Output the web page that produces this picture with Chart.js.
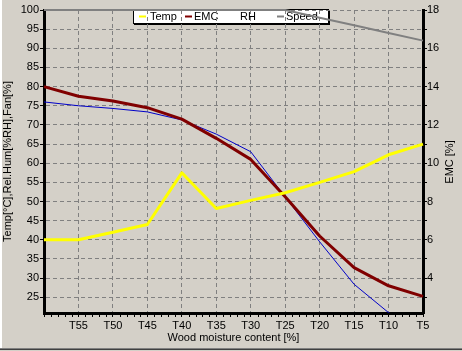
<!DOCTYPE html>
<html>
<head>
<meta charset="utf-8">
<script src="https://cdn.jsdelivr.net/npm/chart.js@4.4.1/dist/chart.umd.min.js"></script>
<style>
html, body { margin: 0; padding: 0; background: #d4d0c8; overflow: hidden; }
canvas { display: block; }
</style>
</head>
<body>
<canvas id="myChart" width="462" height="351"></canvas>
<script>
// data
const categories = ['T60', 'T55', 'T50', 'T45', 'T40', 'T35', 'T30', 'T25', 'T20', 'T15', 'T10', 'T5'];
const tempValues = [40, 40, 42, 44, 57.5, 48.2, 50.3, 52.3, 55, 57.8, 62.2, 65];
const emcValues = [14, 13.5, 13.25, 12.9, 12.3, 11.3, 10.2, 8.25, 6.2, 4.55, 3.6, 3.05];
const rhValues = [76, 75, 74.3, 73.4, 71.3, 67.6, 63, 51.2, 39.5, 28.4, 21, 15];
const speedValues = [100, 100, 100, 100, 100, 100, 100, 100, 98, 96, 94, 92];
const leftRange = [20.9, 100];   // Temp / RH / Fan axis
const rightRange = [2.18, 18];   // EMC axis

const FONT = "'Liberation Sans', Arial, sans-serif";
Chart.defaults.font.family = FONT;
Chart.defaults.font.size = 11;
Chart.defaults.color = '#000000';

// window background, frame and the legend box (drawn first so the grid shows through)
const backdrop = {
    id: 'backdrop',
    beforeDraw(chart) {
        const ctx = chart.ctx;
        ctx.save();
        ctx.fillStyle = '#d4d0c8';
        ctx.fillRect(0, 0, chart.width, chart.height);
        ctx.fillStyle = '#ffffff';
        ctx.fillRect(0, 0, 2, 348);
        ctx.fillStyle = '#808080';
        ctx.fillRect(0, 348, chart.width, 1);
        ctx.fillStyle = '#404040';
        ctx.fillRect(0, 349, chart.width, 1);

        // legend
        ctx.fillStyle = '#ffffff';
        ctx.fillRect(133, 9, 196, 15);
        ctx.strokeStyle = '#000000';
        ctx.lineWidth = 1;
        ctx.strokeRect(133.5, 9.5, 195, 14);
        ctx.fillStyle = '#000000';
        ctx.fillRect(329, 10, 1, 15);
        ctx.fillRect(134, 24, 196, 1);

        const spots = [[139, 150], [185, 194], [null, 240], [277, 286]];
        ctx.font = '11px ' + FONT;
        ctx.textBaseline = 'middle';
        ctx.textAlign = 'left';
        chart.data.datasets.forEach((ds, i) => {
            const [sx, tx] = spots[i];
            if (sx !== null) {
                ctx.strokeStyle = ds.borderColor;
                ctx.lineWidth = 2;
                ctx.beginPath();
                ctx.moveTo(sx, 16.5);
                ctx.lineTo(sx + 7, 16.5);
                ctx.stroke();
            }
            ctx.fillStyle = '#000000';
            ctx.fillText(ds.label, tx, 17);
        });
        ctx.restore();
    }
};

// minor ticks and the right-hand axis title
const extras = {
    id: 'extras',
    afterDraw(chart) {
        const ctx = chart.ctx;
        const xs = chart.scales.x;
        const bottom = chart.chartArea.bottom;
        ctx.save();
        ctx.strokeStyle = '#000000';
        ctx.lineWidth = 1;
        ctx.beginPath();
        for (let i = 0; i < categories.length - 1; i++) {
            for (let k = 1; k < 5; k++) {
                const px = Math.round(xs.getPixelForValue(i + k / 5)) + 0.5;
                ctx.moveTo(px, bottom + 1);
                ctx.lineTo(px, bottom + 4);
            }
        }
        ctx.stroke();

        ctx.translate(450, 162);
        ctx.rotate(-Math.PI / 2);
        ctx.font = '11px ' + FONT;
        ctx.fillStyle = '#000000';
        ctx.textAlign = 'center';
        ctx.textBaseline = 'middle';
        ctx.fillText('EMC [%]', 0, 0);
        ctx.restore();
    }
};

const ctx = document.getElementById('myChart');

new Chart(ctx, {
    type: 'line',
    data: {
        labels: categories,
        datasets: [
            { label: 'Temp', data: tempValues, yAxisID: 'y', borderColor: '#ffff00', borderWidth: 3 },
            { label: 'EMC', data: emcValues, yAxisID: 'y1', borderColor: '#800000', borderWidth: 3 },
            { label: 'RH', data: rhValues, yAxisID: 'y', borderColor: '#0000c8', borderWidth: 1 },
            { label: 'Speed', data: speedValues, yAxisID: 'y', borderColor: '#808080', borderWidth: 2, clip: false }
        ]
    },
    plugins: [backdrop, extras],
    options: {
        responsive: false,
        animation: false,
        layout: { padding: { top: 10, left: 0, right: 0, bottom: 0 } },
        elements: {
            point: { radius: 0 },
            line: { tension: 0, borderJoinStyle: 'round' }
        },
        plugins: {
            legend: { display: false },
            tooltip: { enabled: false }
        },
        scales: {
            x: {
                afterFit: (s) => { s.height = 38; },
                grid: {
                    color: '#808080',
                    tickColor: '#000000',
                    tickLength: 4,
                    tickBorderDash: []
                },
                border: { color: '#000000', width: 3, dash: [4, 3] },
                ticks: {
                    autoSkip: false,
                    maxRotation: 0,
                    padding: 2,
                    callback: (v, i) => (i === 0 ? '' : categories[i])
                },
                title: {
                    display: true,
                    text: 'Wood moisture content [%]',
                    padding: { top: 0, bottom: 6.4 }
                }
            },
            y: {
                position: 'left',
                min: leftRange[0],
                max: leftRange[1],
                afterFit: (s) => { s.width = 44; },
                grid: {
                    color: '#808080',
                    tickColor: '#000000',
                    tickLength: 4,
                    tickBorderDash: []
                },
                border: { color: '#000000', width: 3, dash: [4, 3] },
                ticks: { stepSize: 5, includeBounds: false, padding: 1 },
                title: {
                    display: true,
                    text: 'Temp[°C],Rel.Hum[%RH],Fan[%]',
                    padding: { top: 1.4, bottom: 0 }
                }
            },
            y1: {
                position: 'right',
                min: rightRange[0],
                max: rightRange[1],
                afterFit: (s) => { s.width = 39; },
                grid: {
                    drawOnChartArea: false,
                    color: '#000000',
                    tickColor: '#000000',
                    tickLength: 4
                },
                border: { color: '#000000', width: 3 },
                ticks: {
                    stepSize: 1,
                    includeBounds: false,
                    padding: 0,
                    callback: (v) => (v % 2 === 0 ? v : '')
                }
            }
        }
    }
});
</script>
</body>
</html>
